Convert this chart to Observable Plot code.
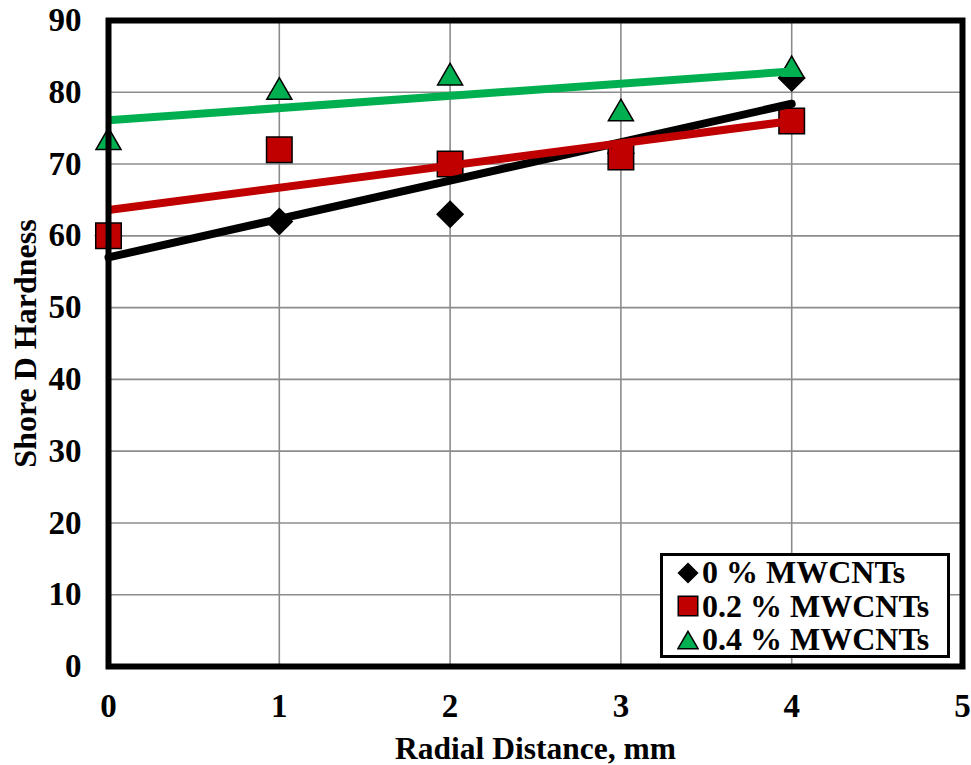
<!DOCTYPE html>
<html>
<head>
<meta charset="utf-8">
<script src="https://cdn.jsdelivr.net/npm/d3@7"></script>
<script src="https://cdn.jsdelivr.net/npm/@observablehq/plot@0.6"></script>
<style>
  body { margin: 0; background: #fff; }
  #wrap { position: relative; width: 971px; height: 765px; }
  #legend {
    position: absolute; left: 660px; top: 553px; width: 284px; height: 99px;
    border: 3px solid #000; background: #fff;
    font-family: "Liberation Serif", "Times New Roman", serif; font-weight: bold; font-size: 32px;
  }
  .row { display: flex; align-items: center; height: 33.5px; line-height: 33.5px; white-space: nowrap; }
  .row svg { margin-left: 14px; margin-right: 3px; flex: none; }
</style>
</head>
<body>
<div id="wrap"><div id="legend"></div></div>
<script>
// ---- data ----
const radialDistance = [0, 1, 2, 3, 4];
const hardness0 = [60, 62, 63, 71.5, 82];
const hardness02 = [60, 72, 70, 71, 76];
const hardness04 = [73.5, 80.5, 82.5, 77.5, 83.5];
const seriesNames = ["0 % MWCNTs", "0.2 % MWCNTs", "0.4 % MWCNTs"];
const seriesColors = ["#000000", "#C00000", "#00B050"];
const seriesSymbols = ["diamond2", "square", "triangle"];
const seriesCaps = ["round", "butt", "butt"];
const xTicks = [0, 1, 2, 3, 4, 5];
const yTicks = [0, 10, 20, 30, 40, 50, 60, 70, 80, 90];
const xLabel = "Radial Distance, mm";
const yLabel = "Shore D Hardness";

const seriesValues = [hardness0, hardness02, hardness04];
const rows = [];
seriesValues.forEach((vals, s) => radialDistance.forEach((x, i) => rows.push({x, y: vals[i], series: seriesNames[s]})));

const symbolR = {diamond2: 11.7, square: 14.4, triangle: 9.3};
const symbolDy = {diamond2: 0, square: 0, triangle: 3.4};

const dots = seriesNames.map((name, s) =>
  Plot.dot(rows.filter(d => d.series === name), {
    x: "x", y: "y", symbol: seriesSymbols[s], r: symbolR[seriesSymbols[s]],
    fill: seriesColors[s], stroke: "#000", strokeWidth: 1.5, dy: symbolDy[seriesSymbols[s]]
  })
);
const fits = seriesNames.map((name, s) =>
  Plot.linearRegressionY(rows.filter(d => d.series === name), {
    x: "x", y: "y", stroke: seriesColors[s], strokeWidth: 8, ci: 0, strokeLinecap: seriesCaps[s]
  })
);

const chart = Plot.plot({
  width: 971,
  height: 765,
  marginLeft: 108,
  marginRight: 9,
  marginTop: 20,
  marginBottom: 99,
  style: {fontFamily: '"Liberation Serif", "Times New Roman", serif', fontSize: "33px", fontWeight: "bold", background: "#fff", color: "#000"},
  x: {domain: [0, 5]},
  y: {domain: [0, 90]},
  marks: [
    Plot.gridX(xTicks, {stroke: "#8c8c8c", strokeOpacity: 1, strokeWidth: 1.6}),
    Plot.gridY(yTicks, {stroke: "#8c8c8c", strokeOpacity: 1, strokeWidth: 1.6}),
    ...dots,
    ...fits,
    Plot.frame({stroke: "#000", strokeWidth: 6}),
    Plot.axisX(xTicks, {tickSize: 0, tickPadding: 27, tickFormat: d => String(d), label: null, fontSize: 33}),
    Plot.axisY(yTicks, {tickSize: 0, tickPadding: 27, tickFormat: d => String(d), label: null, fontSize: 33}),
    Plot.text([xLabel], {text: d => d, frameAnchor: "bottom", dy: 82, textAnchor: "middle", lineAnchor: "middle", fontSize: 31.5, fontWeight: "bold"}),
    Plot.text([yLabel], {text: d => d, frameAnchor: "left", dx: -83, rotate: -90, textAnchor: "middle", lineAnchor: "middle", fontSize: 32, fontWeight: "bold"})
  ]
});
document.getElementById("wrap").prepend(chart);

// ---- legend ----
const legend = d3.select("#legend");
const legendSize = {diamond2: 230, square: 380, triangle: 175};
const legendShift = {diamond2: 0, square: 0, triangle: 2.9};
seriesNames.forEach((name, s) => {
  const key = seriesSymbols[s];
  const row = legend.append("div").attr("class", "row");
  const svg = row.append("svg").attr("width", 22).attr("height", 24);
  const sym = {diamond2: d3.symbolDiamond2, square: d3.symbolSquare, triangle: d3.symbolTriangle}[key];
  svg.append("path")
    .attr("transform", `translate(11,${12 + legendShift[key]})`)
    .attr("d", d3.symbol(sym, legendSize[key])())
    .attr("fill", seriesColors[s]).attr("stroke", "#000").attr("stroke-width", 1.5);
  row.append("span").text(name);
});
</script>
</body>
</html>
